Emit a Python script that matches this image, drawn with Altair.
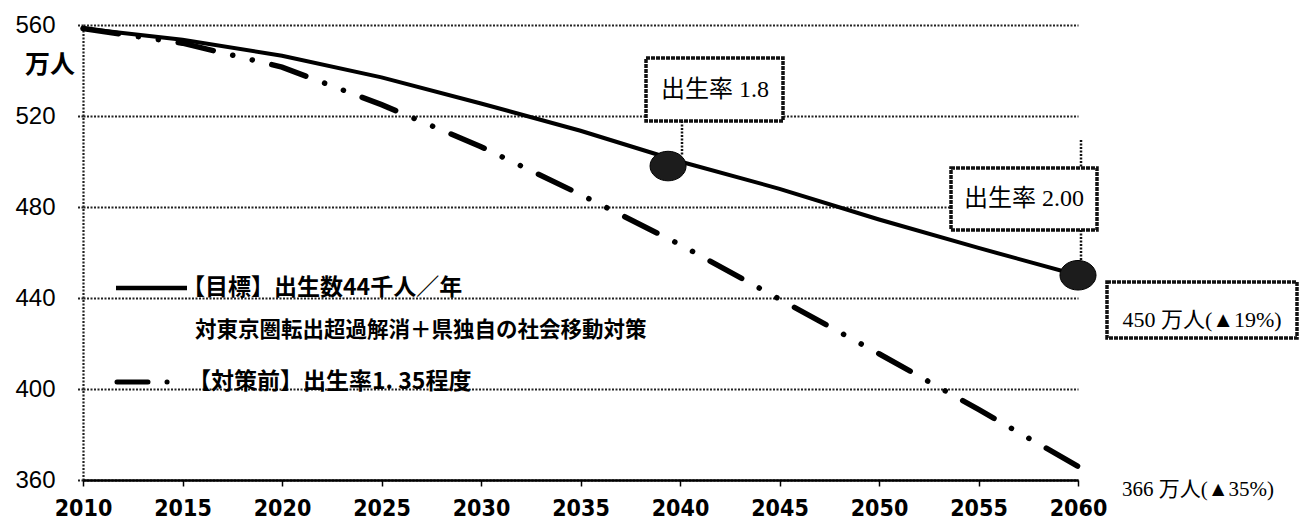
import altair as alt
import pandas as pd

# ---- data ----
years = [2010, 2015, 2020, 2025, 2030, 2035, 2040, 2045, 2050, 2055, 2060]
target = [558.5, 553.5, 546.5, 537.0, 525.5, 513.5, 500.0, 488.0, 474.5, 462.0, 450.0]
baseline = [558.5, 552.0, 541.5, 525.0, 506.5, 485.5, 463.5, 439.5, 415.5, 391.0, 366.0]
marker_years = [2039.4, 2060]
marker_values = [498, 450]
x_ticks = [2010, 2015, 2020, 2025, 2030, 2035, 2040, 2045, 2050, 2055, 2060]
y_ticks = [360, 400, 440, 480, 520, 560]
unit_label = ["万人"]
legend_labels = ["【目標】出生数44千人／年", "対東京圏転出超過解消＋県独自の社会移動対策", "【対策前】出生率1. 35程度"]
box_labels = ["出生率 1.8", "出生率 2.00", "450 万人(▲19%)"]
end_label = ["366 万人(▲35%)"]

W, H = 995, 455
PL, PT = 83, 25

xs = alt.Scale(domain=[2010, 2060], nice=False, zero=False)
ys = alt.Scale(domain=[360, 560], nice=False, zero=False)

df_t = pd.DataFrame({"year": years, "value": target})
df_b = pd.DataFrame({"year": years, "value": baseline})
df_m = pd.DataFrame({"year": marker_years, "value": marker_values})

x_axis = alt.Axis(values=x_ticks, format="d", title=None, grid=False,
                  labelFont="Liberation Sans Narrow, DejaVu Sans Condensed, Liberation Sans",
                  labelFontSize=23, labelFontWeight="bold", labelColor="black",
                  labelPadding=11, labelFlush=False,
                  tickSize=6, tickColor="black", tickWidth=1.5,
                  domainColor="black", domainWidth=2.5, zindex=2)
y_axis = alt.Axis(values=y_ticks, title=None, grid=True,
                  gridDash=[2, 1.5], gridColor="#222", gridWidth=1.8,
                  domainDash=[2, 1.5], domainColor="#222", domainWidth=2.2,
                  tickSize=6, tickColor="#222", tickDash=[2, 1.5], tickWidth=1.8,
                  labelFont="Liberation Sans, Arial, sans-serif", labelFontSize=24,
                  labelColor="black", labelPadding=22)

line_t = alt.Chart(df_t).mark_line(color="black", strokeWidth=4, strokeCap="round").encode(
    x=alt.X("year:Q", scale=xs, axis=x_axis),
    y=alt.Y("value:Q", scale=ys, axis=y_axis),
)
line_b = alt.Chart(df_b).mark_line(color="black", strokeWidth=5.5, strokeCap="round",
                                   strokeDash=[36, 20, 0.1, 20, 0.1, 20]).encode(
    x=alt.X("year:Q", scale=xs),
    y=alt.Y("value:Q", scale=ys),
)

ellipse = "M -1 0 A 1 0.82 0 1 0 1 0 A 1 0.82 0 1 0 -1 0 Z"
markers = alt.Chart(df_m).mark_point(shape=ellipse, filled=True, size=1300,
                                     fill="#1c1c1c", stroke="black", strokeWidth=1,
                                     opacity=1).encode(
    x=alt.X("year:Q", scale=xs),
    y=alt.Y("value:Q", scale=ys),
)

one = pd.DataFrame({"k": [0]})


def px(v):
    return alt.value(v - PL)


def py(v):
    return alt.value(v - PT)


def vrule(x, y1, y2):
    return alt.Chart(one).mark_rule(color="#111", strokeWidth=2.5, strokeDash=[2, 1.5]).encode(
        x=px(x), y=py(y1), y2=py(y2))


conns = [vrule(682, 121, 156), vrule(1081, 140, 168), vrule(1081, 230, 262)]


def box(x1, y1, x2, y2):
    return alt.Chart(one).mark_rect(fill="white", stroke="#111", strokeWidth=3.5,
                                    strokeDash=[4, 1]).encode(
        x=px(x1), x2=px(x2), y=py(y1), y2=py(y2))


boxes = [box(646, 58, 783, 121), box(951, 168, 1097, 230), box(1107, 282, 1297, 338)]

serif_font = "Liberation Serif, Noto Sans CJK JP"


def label(text, x, y, size, align="center", weight="normal", font="Noto Sans CJK JP"):
    return alt.Chart(pd.DataFrame({"t": [text]})).mark_text(
        align=align, baseline="middle", fontSize=size, fontWeight=weight,
        font=font, color="black").encode(x=px(x), y=py(y), text="t:N")


texts = [
    label(box_labels[0], 715, 90, 24, font=serif_font),
    label(box_labels[1], 1024, 199, 24, font=serif_font),
    label(box_labels[2], 1202, 320, 22, font=serif_font),
    label(end_label[0], 1122, 490, 21, align="left", font=serif_font),
    label(unit_label[0], 50, 65, 25, weight="bold"),
    label(legend_labels[0], 182, 288, 23, align="left", weight="bold"),
    label(legend_labels[1], 195, 331, 21.5, align="left", weight="bold"),
    label(legend_labels[2], 188, 382, 23, align="left", weight="bold"),
]

leg_solid = alt.Chart(one).mark_rule(color="black", strokeWidth=4.5).encode(
    x=px(116), x2=px(187), y=py(288))
leg_dash = alt.Chart(one).mark_rule(color="black", strokeWidth=5, strokeCap="round",
                                    strokeDash=[31, 19, 0.1, 60]).encode(
    x=px(117), x2=px(175), y=py(382))

chart = alt.layer(
    line_t, line_b, markers, *conns, *boxes, *texts, leg_solid, leg_dash
).properties(
    width=W, height=H,
    padding={"left": PL, "top": PT, "right": 1299 - PL - W, "bottom": 522 - PT - H},
    autosize="none",
).configure_view(stroke=None)

chart.save("out.html", embed_options={"renderer": "svg", "actions": False})
